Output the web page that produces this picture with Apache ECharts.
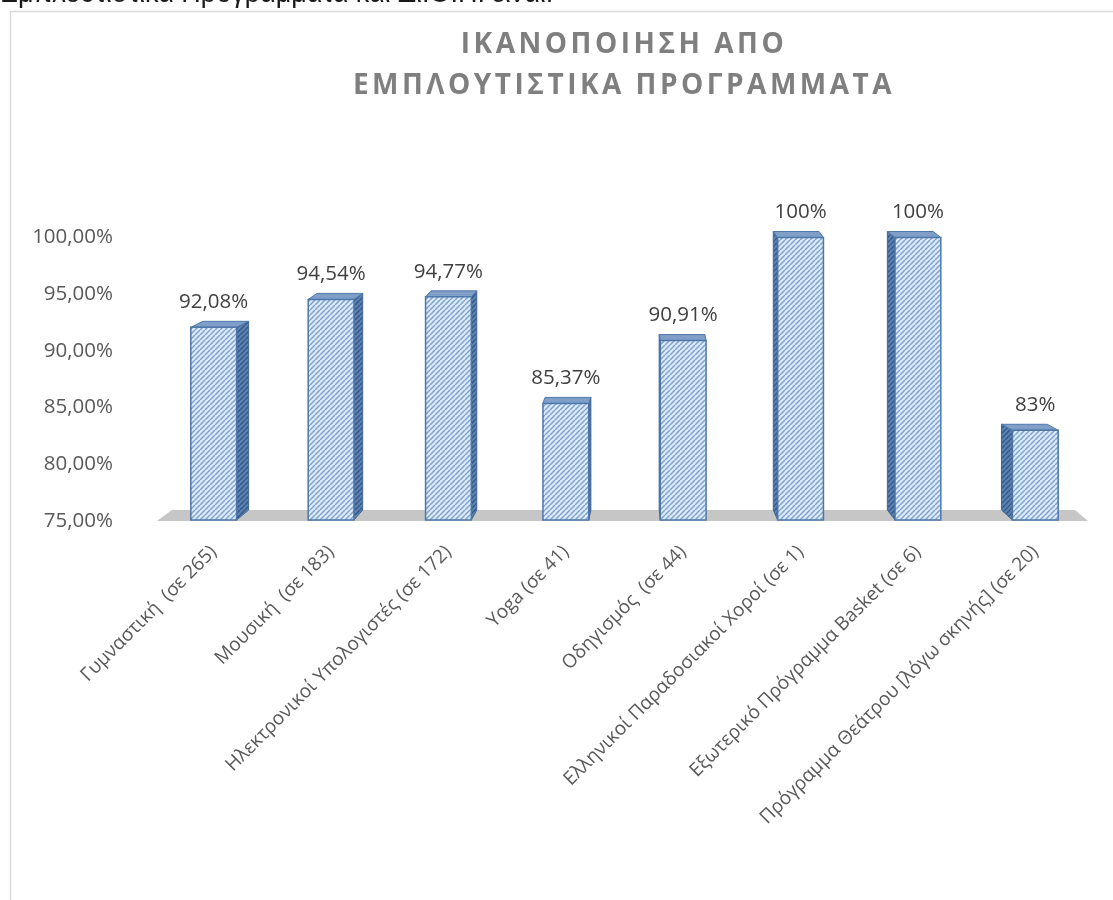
<!DOCTYPE html>
<html>
<head>
<meta charset="utf-8">
<script src="https://cdn.jsdelivr.net/npm/echarts@6/dist/echarts.min.js"></script>
<style>
html,body{margin:0;padding:0;background:#fff;}
#wrap{position:relative;width:1113px;height:900px;}
#main,#ttl{position:absolute;left:0;top:0;width:1113px;height:900px;}
#ttl{pointer-events:none;}
</style>
</head>
<body>
<div id="wrap"><div id="main"></div><div id="ttl"></div></div>
<script>
const categories = [
  'Γυμναστική  (σε 265)',
  'Μουσική  (σε 183)',
  'Ηλεκτρονικοί Υπολογιστές (σε 172)',
  'Yoga (σε 41)',
  'Οδηγισμός  (σε 44)',
  'Ελληνικοί Παραδοσιακοί Χοροί (σε 1)',
  'Εξωτερικό Πρόγραμμα Basket (σε 6)',
  'Πρόγραμμα Θεάτρου [λόγω σκηνής] (σε 20)'
];
const values = [92.08, 94.54, 94.77, 85.37, 90.91, 100, 100, 83];
const valueLabels = ['92,08%', '94,54%', '94,77%', '85,37%', '90,91%', '100%', '100%', '83%'];
const yMin = 75, yMax = 100, yStep = 5;
const titleText = 'ΙΚΑΝΟΠΟΙΗΣΗ ΑΠΟ\nΕΜΠΛΟΥΤΙΣΤΙΚΑ ΠΡΟΓΡΑΜΜΑΤΑ';
const headerText = 'Εμπλουτιστικά Προγράμματα και Δι.Ο.Π. είναι:';

const FONT = '"Open Sans", "Noto Sans", sans-serif';

function hatch(bg, fg, size, lw) {
  const c = document.createElement('canvas');
  c.width = c.height = size;
  const g = c.getContext('2d');
  g.fillStyle = bg; g.fillRect(0, 0, size, size);
  g.strokeStyle = fg; g.lineWidth = lw;
  g.beginPath();
  for (let k = -1; k <= 1; k++) { g.moveTo(k * size, size); g.lineTo(k * size + size, 0); }
  g.stroke();
  return c;
}
const frontFill = { image: hatch('#dcebfb', '#7fa1cb', 5, 1.5), repeat: 'repeat' };
const sideFill = { image: hatch('#5c82b0', '#34598a', 5, 1.5), repeat: 'repeat' };

const main = echarts.init(document.getElementById('main'), null, { renderer: 'canvas' });
main.setOption({
  animation: false,
  backgroundColor: '#ffffff',
  grid: { left: 155, right: 19, top: 237.5, bottom: 379 },
  xAxis: {
    type: 'category',
    data: categories,
    axisLine: { show: false },
    axisTick: { show: false },
    axisLabel: {
      rotate: 45, margin: 28, interval: 0,
      color: '#595959', fontFamily: FONT, fontSize: 19
    }
  },
  yAxis: {
    type: 'value', min: yMin, max: yMax, interval: yStep,
    axisLine: { show: false }, axisTick: { show: false },
    splitLine: { show: false },
    axisLabel: {
      margin: 42, color: '#595959', fontFamily: FONT, fontSize: 20.5,
      formatter: v => v.toFixed(2).replace('.', ',') + '%'
    }
  },
  graphic: [
    { type: 'rect', shape: { x: 10.5, y: 11.5, width: 1200, height: 1000 },
      style: { fill: 'none', stroke: '#d9d9d9', lineWidth: 1.5 }, silent: true },
    { type: 'text', x: 0, y: -5,
      style: { text: headerText, font: '27px "Liberation Sans"', fill: '#1a1a1a',
               verticalAlign: 'middle', align: 'left' }, silent: true }
  ],
  series: [
    {
      type: 'custom', z: 1, silent: true,
      data: [[0, yMin]],
      renderItem: function (params, api) {
        const cs = params.coordSys;
        const yb = api.coord([0, yMin])[1];
        const L = cs.x, R = cs.x + cs.width;
        return {
          type: 'polygon',
          shape: { points: [[L + 2, yb], [L + 17, yb - 11], [R - 19, yb - 11], [R - 6, yb]] },
          style: { fill: '#c6c6c6' }
        };
      }
    },
    {
      type: 'custom', z: 2, silent: true,
      data: values.map((v, i) => [i, v]),
      renderItem: function (params, api) {
        const cs = params.coordSys;
        const i = params.dataIndex;
        const v = api.value(1);
        const pt = api.coord([i, v]);
        const pb = api.coord([i, yMin]);
        const band = api.size([1, 0])[0];
        const w = band * 0.39;
        const cx = pt[0], yt = pt[1], yb = pb[1] - 1;
        const vanish = cs.x + cs.width * 0.52;
        const dx = (vanish - cx) * 0.028;
        const dy = 6;
        const x0 = cx - w / 2, x1 = cx + w / 2;
        const xs = dx >= 0 ? x1 : x0;
        const children = [];
        children.push({
          type: 'polygon',
          shape: { points: [[xs, yt], [xs + dx, yt - dy], [xs + dx, yb - dy - 4], [xs, yb]] },
          style: { fill: sideFill, stroke: '#3f6797', lineWidth: 1 }
        });
        children.push({
          type: 'polygon',
          shape: { points: [[x0, yt], [x0 + dx, yt - dy], [x1 + dx, yt - dy], [x1, yt]] },
          style: { fill: '#7f9fc9', stroke: '#4f77aa', lineWidth: 1 }
        });
        children.push({
          type: 'rect',
          shape: { x: x0, y: yt, width: w, height: yb - yt },
          style: { fill: frontFill, stroke: '#4f77aa', lineWidth: 1.5 }
        });
        children.push({
          type: 'text', x: cx, y: yt - 25,
          style: { text: valueLabels[i], fontFamily: FONT, fontSize: 20.5, fill: '#404040',
                   align: 'center', verticalAlign: 'middle' }
        });
        return { type: 'group', children: children };
      }
    }
  ]
});

const ttl = echarts.init(document.getElementById('ttl'), null, { renderer: 'canvas' });
ttl.setOption({
  animation: false,
  graphic: [{
    type: 'text', x: 624, y: 66, silent: true,
    style: { text: titleText, fontFamily: FONT, fontWeight: 'bold', fontSize: 28, fill: '#7f7f7f',
             align: 'center', verticalAlign: 'middle', lineHeight: 41 }
  }]
});
try {
  const cv = document.querySelector('#ttl canvas');
  const ctx = cv.getContext('2d');
  ctx.letterSpacing = '3.5px';
  ttl.getZr().painter.refresh(true);
} catch (e) {}
</script>
</body>
</html>
